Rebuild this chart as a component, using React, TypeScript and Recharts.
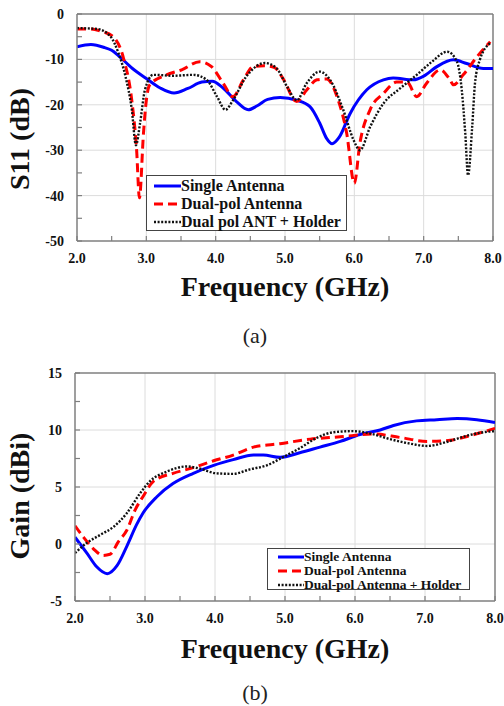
import React from 'react';
import { LineChart, Line, XAxis, YAxis, ReferenceLine } from 'recharts';

const FONT = '"Liberation Serif", "Times New Roman", serif';
const AXIS = '#7f7f7f';
const GRID = '#dcdcdc';

// axes
const freqTicks = [2, 2.5, 3, 3.5, 4, 4.5, 5, 5.5, 6, 6.5, 7, 7.5, 8];
const freqGrid = [3, 4, 5, 6, 7];
const s11Ticks = [0, -5, -10, -15, -20, -25, -30, -35, -40, -45, -50];
const s11Grid = [-10, -20, -30, -40];
const gainTicks = [15, 12.5, 10, 7.5, 5, 2.5, 0, -2.5, -5];
const gainGrid = [10, 5, 0];

// (a) S11
const s11SingleFreq = [2.0, 2.2, 2.4, 2.5, 2.6, 2.8, 3.0, 3.2, 3.4, 3.6, 3.8, 3.95, 4.1, 4.3, 4.47, 4.6, 4.75, 4.93, 5.17, 5.36, 5.5, 5.6, 5.68, 5.78, 5.94, 6.18, 6.42, 6.56, 6.85, 7.0, 7.19, 7.43, 7.62, 7.86, 8.0];
const s11SingleDb = [-7.2, -6.7, -7.4, -8.0, -9.2, -12.0, -14.2, -16.3, -17.4, -16.4, -15.0, -14.8, -16.2, -19.3, -21.1, -20.2, -18.8, -18.4, -19.0, -20.4, -24.0, -27.4, -28.6, -27.2, -21.9, -16.7, -14.5, -14.1, -14.5, -13.7, -11.6, -10.1, -10.9, -12.0, -12.0];

const s11DualFreq = [2.0, 2.2, 2.35, 2.52, 2.67, 2.79, 2.86, 2.9, 2.96, 3.0, 3.05, 3.29, 3.51, 3.77, 3.94, 4.11, 4.25, 4.4, 4.54, 4.7, 4.85, 4.97, 5.17, 5.31, 5.46, 5.6, 5.75, 5.89, 6.0, 6.08, 6.23, 6.42, 6.61, 6.76, 6.9, 7.04, 7.24, 7.38, 7.43, 7.57, 7.77, 7.96];
const s11DualDb = [-3.3, -3.3, -3.8, -5.0, -9.7, -19.0, -30.0, -40.5, -26.0, -19.0, -15.6, -13.4, -12.3, -10.5, -11.6, -15.3, -18.2, -14.5, -11.6, -11.4, -11.8, -14.2, -19.3, -16.8, -14.5, -14.3, -18.2, -26.3, -37.3, -28.5, -21.0, -17.5, -15.0, -15.0, -18.2, -15.3, -12.3, -14.5, -15.6, -13.4, -9.4, -6.1];

const s11HolderFreq = [2.0, 2.29, 2.48, 2.6, 2.7, 2.79, 2.85, 2.91, 2.98, 3.1, 3.39, 3.68, 3.87, 4.02, 4.14, 4.25, 4.44, 4.5, 4.71, 4.88, 5.03, 5.17, 5.31, 5.5, 5.65, 5.84, 5.99, 6.08, 6.23, 6.42, 6.66, 6.9, 7.12, 7.34, 7.48, 7.55, 7.6, 7.64, 7.7, 7.74, 7.81, 7.96];
const s11HolderDb = [-3.1, -3.3, -4.9, -8.7, -13.8, -21.0, -28.9, -24.0, -16.7, -13.4, -13.6, -13.4, -14.5, -18.2, -21.1, -19.0, -13.8, -12.7, -10.8, -12.0, -16.0, -19.0, -15.3, -12.7, -14.5, -21.1, -27.8, -30.0, -24.8, -19.7, -16.4, -13.4, -10.5, -8.3, -10.5, -16.8, -26.3, -35.5, -24.8, -15.3, -10.1, -6.4];

// (b) Gain
const gainSingleFreq = [2.0, 2.17, 2.31, 2.46, 2.6, 2.74, 2.88, 2.97, 3.17, 3.4, 3.69, 3.98, 4.26, 4.55, 4.69, 4.93, 5.21, 5.5, 5.79, 6.07, 6.36, 6.55, 6.88, 7.17, 7.46, 7.74, 8.0];
const gainSingleDbi = [0.6, -0.8, -2.0, -2.6, -1.9, -0.2, 1.7, 2.7, 4.15, 5.3, 6.2, 6.9, 7.4, 7.8, 7.8, 7.6, 8.0, 8.5, 9.0, 9.6, 10.0, 10.4, 10.8, 10.9, 11.0, 10.9, 10.65];

const gainDualFreq = [2.0, 2.12, 2.26, 2.4, 2.5, 2.62, 2.74, 2.86, 2.97, 3.12, 3.4, 3.69, 3.98, 4.26, 4.55, 4.93, 5.36, 5.79, 6.26, 6.64, 7.03, 7.36, 7.64, 8.0];
const gainDualDbi = [1.6, 0.6, -0.4, -1.0, -0.9, 0.2, 1.2, 3.0, 4.15, 5.5, 6.2, 6.7, 7.3, 7.8, 8.5, 8.8, 9.2, 9.4, 9.65, 9.35, 9.0, 9.1, 9.5, 10.15];

const gainHolderFreq = [2.0, 2.17, 2.36, 2.55, 2.74, 2.93, 3.07, 3.31, 3.6, 3.79, 4.02, 4.26, 4.5, 4.74, 4.98, 5.21, 5.45, 5.69, 5.97, 6.21, 6.5, 6.79, 7.03, 7.31, 7.6, 7.83, 8.0];
const gainHolderDbi = [-0.8, 0.1, 0.8, 1.5, 2.7, 4.45, 5.5, 6.35, 6.8, 6.6, 6.2, 6.15, 6.55, 6.9, 7.65, 8.4, 9.3, 9.8, 9.9, 9.7, 9.2, 8.8, 8.6, 8.95, 9.5, 9.8, 9.9];

const legendA = ['Single Antenna', 'Dual-pol Antenna', 'Dual pol ANT + Holder'];
const legendB = ['Single Antenna', 'Dual-pol Antenna', 'Dual-pol Antenna + Holder'];

const pts = (f: number[], v: number[]) => f.map((x, i) => ({ f: x, v: v[i] }));

const styles = [
    { stroke: '#0000ff', strokeWidth: 3, dash: undefined as string | undefined },
    { stroke: '#ff0000', strokeWidth: 3, dash: '9 5' },
    { stroke: '#111111', strokeWidth: 2.4, dash: '2 1.6' },
];

const XTick = (props: any) => {
    const { x, y, payload } = props;
    const v = payload.value;
    return (
        <g>
            <line x1={x} x2={x} y1={y} y2={y - 5} stroke={AXIS} strokeWidth={1.2} />
            {Number.isInteger(v) && (
                <text x={x} y={y + 22} textAnchor="middle" fontFamily={FONT} fontWeight="bold" fontSize={14} fill="#111">
                    {v.toFixed(1)}
                </text>
            )}
        </g>
    );
};

const makeYTick = (step: number) => (props: any) => {
    const { x, y, payload } = props;
    const v = payload.value;
    return (
        <g>
            <line x1={x} x2={x + 5} y1={y} y2={y} stroke={AXIS} strokeWidth={1.2} />
            {v % step === 0 && (
                <text x={x - 13} y={y + 5} textAnchor="end" fontFamily={FONT} fontWeight="bold" fontSize={14} fill="#111">
                    {v}
                </text>
            )}
        </g>
    );
};

const Legend = ({ names, left, top, width, height, rowH, fontSize, padL, sample }: any) => (
    <div style={{ position: 'absolute', left, top, width, height, border: '1px solid #444', background: '#fff', boxSizing: 'border-box', paddingTop: 1, paddingLeft: padL }}>
        {names.map((n: string, i: number) => (
            <div key={n} style={{ display: 'flex', alignItems: 'center', height: rowH }}>
                <svg width={sample} height={6} style={{ flex: 'none' }}>
                    <line x1={0} x2={sample} y1={3} y2={3} stroke={styles[i].stroke} strokeWidth={styles[i].strokeWidth} strokeDasharray={styles[i].dash} />
                </svg>
                <span style={{ fontFamily: FONT, fontWeight: 'bold', fontSize, lineHeight: 1, whiteSpace: 'nowrap', color: '#111' }}>{n}</span>
            </div>
        ))}
    </div>
);

const Title = ({ text, left, top, width }: any) => (
    <div style={{ position: 'absolute', left, top, width, textAlign: 'center', fontFamily: FONT, fontWeight: 'bold', fontSize: 28, lineHeight: '28px', color: '#111', whiteSpace: 'nowrap' }}>
        {text}
    </div>
);

const YTitle = ({ text, cx, cy }: any) => (
    <div style={{ position: 'absolute', left: cx - 100, top: cy - 14, width: 200, height: 28, textAlign: 'center', fontFamily: FONT, fontWeight: 'bold', fontSize: 28, lineHeight: '28px', color: '#111', transform: 'rotate(-90deg)', whiteSpace: 'nowrap' }}>
        {text}
    </div>
);

const Caption = ({ text, top }: any) => (
    <div style={{ position: 'absolute', left: 0, top, width: 510, textAlign: 'center', fontFamily: FONT, fontSize: 22, lineHeight: '22px', color: '#222' }}>
        {text}
    </div>
);

const Panel = ({ series, yTicks, yGrid, yDomain, yStep, margin }: any) => (
    <LineChart width={504} height={310} margin={margin}>
        <XAxis dataKey="f" type="number" domain={[2, 8]} ticks={freqTicks} interval={0} tickSize={0} tickMargin={0} height={69}
            axisLine={{ stroke: AXIS, strokeWidth: 1.5 }} tick={XTick} allowDataOverflow />
        <YAxis type="number" domain={yDomain} ticks={yTicks} interval={0} tickSize={0} tickMargin={0} width={50}
            axisLine={{ stroke: AXIS, strokeWidth: 1.5 }} tick={makeYTick(yStep)} allowDataOverflow />
        {freqGrid.map((g) => <ReferenceLine key={'x' + g} x={g} stroke={GRID} strokeWidth={1} />)}
        {yGrid.map((g: number) => <ReferenceLine key={'y' + g} y={g} stroke={GRID} strokeWidth={1} />)}
        <ReferenceLine y={yDomain[1]} stroke={AXIS} strokeWidth={1.5} />
        <ReferenceLine x={8} stroke={AXIS} strokeWidth={1.5} />
        {series.map((d: any, i: number) => (
            <Line key={i} data={d} dataKey="v" type="monotone" dot={false} activeDot={false}
                stroke={styles[i].stroke} strokeWidth={styles[i].strokeWidth} strokeDasharray={styles[i].dash}
                isAnimationActive={false} />
        ))}
    </LineChart>
);

export default function App() {
    const seriesA = [pts(s11SingleFreq, s11SingleDb), pts(s11DualFreq, s11DualDb), pts(s11HolderFreq, s11HolderDb)];
    const seriesB = [pts(gainSingleFreq, gainSingleDbi), pts(gainDualFreq, gainDualDbi), pts(gainHolderFreq, gainHolderDbi)];
    return (
        <div style={{ position: 'absolute', left: 0, top: 0, width: 504, height: 706, background: '#fff', overflow: 'hidden' }}>
            <div style={{ position: 'absolute', left: 0, top: 0 }}>
                <Panel series={seriesA} yTicks={s11Ticks} yGrid={s11Grid} yDomain={[-50, 0]} yStep={10}
                    margin={{ top: 14, right: 11, left: 27, bottom: 0 }} />
            </div>
            <div style={{ position: 'absolute', left: 0, top: 360 }}>
                <Panel series={seriesB} yTicks={gainTicks} yGrid={gainGrid} yDomain={[-5, 15]} yStep={5}
                    margin={{ top: 13, right: 9, left: 25, bottom: 0 }} />
            </div>
            <Legend names={legendA} left={146} top={175} width={201} height={56} rowH={18} fontSize={16} padL={7} sample={27} />
            <Legend names={legendB} left={267} top={548} width={203} height={42} rowH={14} fontSize={13.5} padL={10} sample={26} />
            <YTitle text="S11 (dB)" cx={20} cy={139} />
            <YTitle text="Gain (dBi)" cx={20} cy={496} />
            <Title text="Frequency (GHz)" left={135} top={273} width={300} />
            <Title text="Frequency (GHz)" left={135} top={635} width={300} />
            <Caption text="(a)" top={325} />
            <Caption text="(b)" top={682} />
        </div>
    );
}
